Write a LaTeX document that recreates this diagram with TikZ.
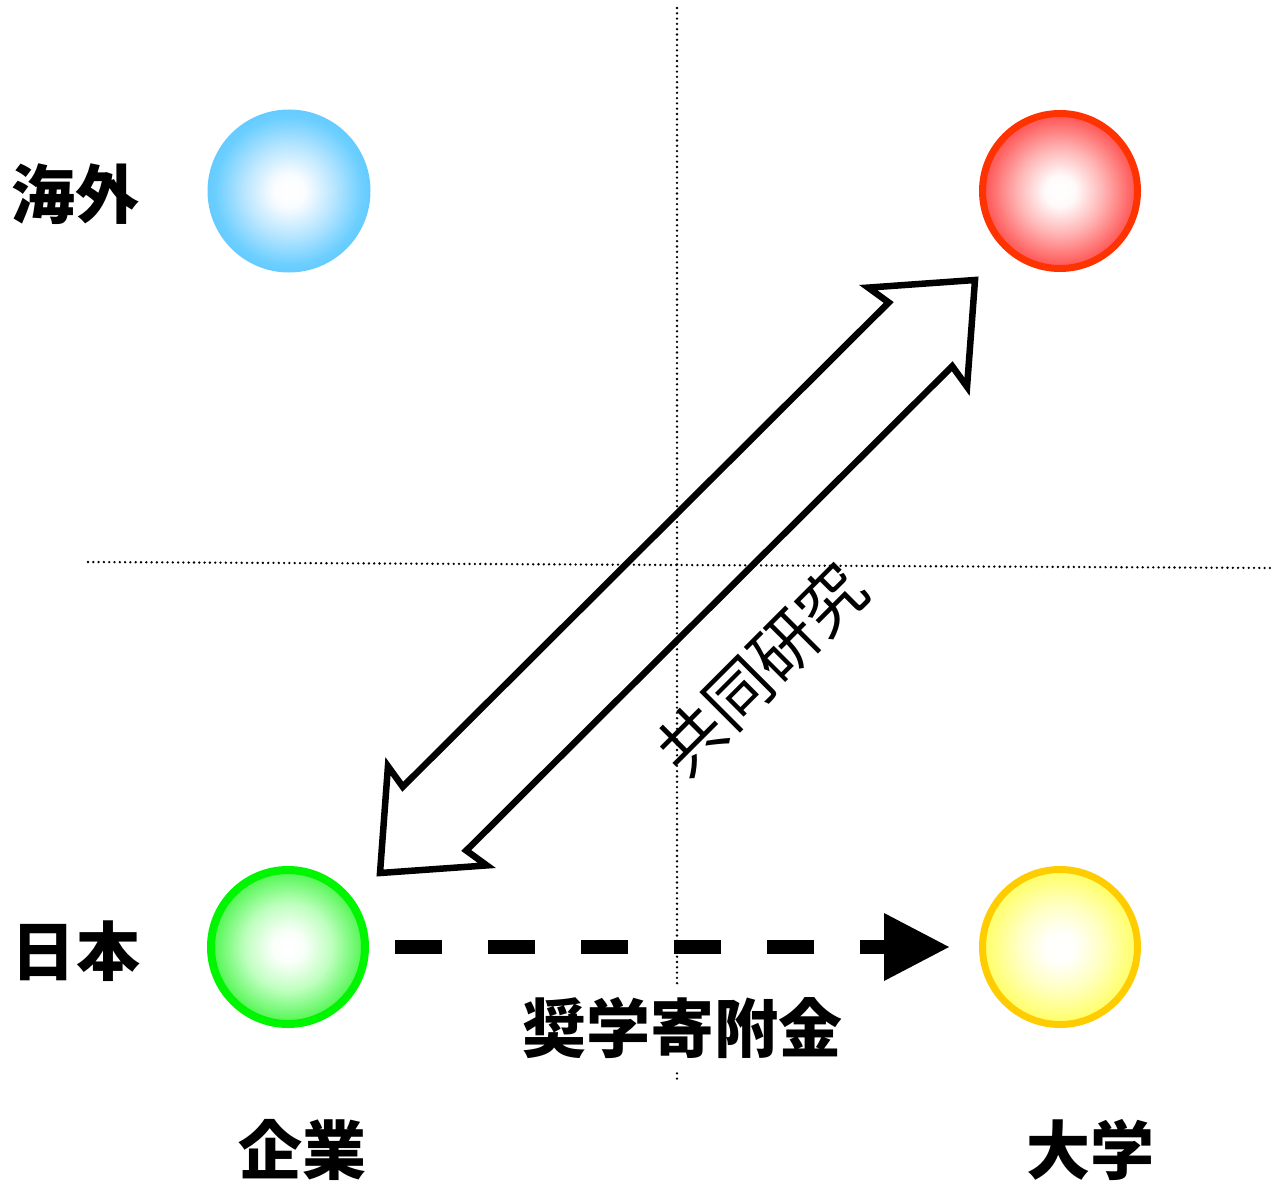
\documentclass[tikz,border=0pt]{standalone}
\usepackage{fontspec}
\newfontfamily\cjk{Noto Sans CJK JP}
\usetikzlibrary{arrows.meta,calc}
\pgfdeclareradialshading{ballblue}{\pgfpoint{0bp}{0bp}}{rgb(0bp)=(1,1,1);rgb(5bp)=(0.98,0.99,1);rgb(14bp)=(0.72,0.9,1);rgb(23bp)=(0.42,0.81,1);rgb(25bp)=(0.4,0.8,1);rgb(50bp)=(0.4,0.8,1)}
\pgfdeclareradialshading{ballred}{\pgfpoint{0bp}{0bp}}{rgb(0bp)=(1,1,1);rgb(5bp)=(1,0.98,0.98);rgb(14bp)=(1,0.7,0.7);rgb(23bp)=(1,0.38,0.38);rgb(25bp)=(1,0.33,0.33);rgb(50bp)=(1,0.33,0.33)}
\pgfdeclareradialshading{ballgreen}{\pgfpoint{0bp}{0bp}}{rgb(0bp)=(1,1,1);rgb(5bp)=(0.98,1,0.98);rgb(14bp)=(0.75,1,0.75);rgb(23bp)=(0.38,0.97,0.38);rgb(25bp)=(0.3,0.95,0.3);rgb(50bp)=(0.3,0.95,0.3)}
\pgfdeclareradialshading{ballyellow}{\pgfpoint{0bp}{0bp}}{rgb(0bp)=(1,1,1);rgb(5bp)=(1,1,0.98);rgb(14bp)=(1,1,0.75);rgb(23bp)=(1,1,0.45);rgb(25bp)=(1,1,0.4);rgb(50bp)=(1,1,0.4)}
\definecolor{cblue}{RGB}{102,204,255}
\definecolor{cred}{RGB}{255,51,0}
\definecolor{cgreen}{RGB}{0,245,0}
\definecolor{cyellow}{RGB}{255,204,0}
\begin{document}
\begin{tikzpicture}[x=1pt,y=-1pt,
  dotline/.style={line width=2.6pt,line cap=round,dash pattern=on 0pt off 5.3pt},
  ball/.style={circle,inner sep=0pt,shade},
  lbl/.style={font=\cjk\bfseries\fontsize{64}{64}\selectfont,inner sep=0pt},
  rotlbl/.style={font=\cjk\fontsize{66}{66}\selectfont,inner sep=0pt,rotate=45},
  dashline/.style={line width=14pt,dash pattern=on 47pt off 46pt,shorten <=26pt,shorten >=30pt,
    -{Triangle[length=65pt,width=68pt,line width=0pt]}},
  bigarrow/.style={line width=6.5pt,line join=miter,miter limit=20}]
\useasboundingbox (0,0) rectangle (1276,1182);
% dotted guide lines
\coordinate (vt) at (677,8);
\coordinate (vb) at (677,1082);
\coordinate (hl) at (88,562);
\coordinate (hr) at (1274,568);
\draw[dotline] (vt) -- (vb);
\draw[dotline] (hl) -- (hr);
% balls
\node[ball,minimum size=161pt,draw=cblue,line width=2pt,shading=ballblue] (blue) at (289,191) {};
\node[ball,minimum size=155pt,draw=cred,line width=7pt,shading=ballred] (red) at (1060,191) {};
\node[ball,minimum size=154pt,draw=cgreen,line width=8pt,shading=ballgreen] (green) at (288,947) {};
\node[ball,minimum size=155pt,draw=cyellow,line width=7pt,shading=ballyellow] (yellow) at (1060,947) {};
% axis labels
\node[lbl] (kaigai) at (75,194) {海外};
\node[lbl] (nihon) at (76,951) {日本};
\node[lbl] (kigyo) at (302,1150) {企業};
\node[lbl] (daigaku) at (1090,1150) {大学};
% donation arrow
\draw[dashline] (green) -- (yellow);
\node[lbl,fill=white,inner sep=12pt] (shogaku) at (682,1028) {奨学寄附金};
% joint research double arrow
\coordinate (tA) at (975,280);
\coordinate (tB) at (380,873);
\draw[bigarrow] (tA)
  -- ($(tA)!81pt!(tB)!70pt!-90:(tB)$)
  -- ($(tA)!77pt!(tB)!45pt!-90:(tB)$)
  -- ($(tB)!77pt!(tA)!45pt!90:(tA)$)
  -- ($(tB)!81pt!(tA)!70pt!90:(tA)$)
  -- (tB)
  -- ($(tB)!81pt!(tA)!70pt!-90:(tA)$)
  -- ($(tB)!77pt!(tA)!45pt!-90:(tA)$)
  -- ($(tA)!77pt!(tB)!45pt!90:(tB)$)
  -- ($(tA)!81pt!(tB)!70pt!90:(tB)$)
  -- cycle;
\node[rotlbl] (kyodo) at (761,669) {共同研究};
\end{tikzpicture}
\end{document}
